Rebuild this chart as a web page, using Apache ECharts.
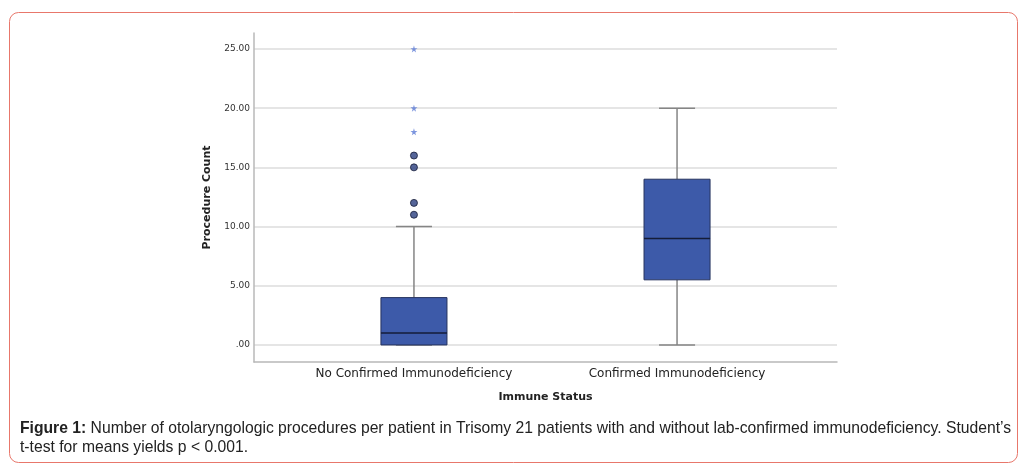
<!DOCTYPE html>
<html>
<head>
<meta charset="utf-8">
<script src="https://cdn.jsdelivr.net/npm/echarts@6/dist/echarts.min.js"></script>
<style>
html,body{margin:0;padding:0;background:#fff;}
#chart{width:1029px;height:471px;}
</style>
</head>
<body>
<div id="chart"></div>
<script>
// ---- data ----
var categories = ['No Confirmed Immunodeficiency', 'Confirmed Immunodeficiency'];
// [min, Q1, median, Q3, max]
var boxStats = [
  [0, 0, 1, 4, 10],
  [0, 5.5, 9, 14, 20]
];
// outliers (circles): [category index, value]
var outliers = [[0, 11], [0, 12], [0, 15], [0, 16]];
// extreme values (stars): [category index, value]
var extremes = [[0, 18], [0, 20], [0, 25]];
var yTicks = [0, 5, 10, 15, 20, 25];
var captionBold = 'Figure 1:';
var captionLine1 = ' Number of otolaryngologic procedures per patient in Trisomy 21 patients with and without lab-confirmed immunodeficiency. Student\u2019s';
var captionLine2 = 't-test for means yields p < 0.001.';

var boxData = boxStats.map(function (s, i) { return [i].concat(s); });

var chart = echarts.init(document.getElementById('chart'));
var starPath = 'path://M50,0 L61,35 L98,35 L68,57 L79,91 L50,70 L21,91 L32,57 L2,35 L39,35 Z';

var option = {
  backgroundColor: '#fff',
  animation: false,
  grid: { left: 254, right: 192, top: 33, bottom: 109 },
  xAxis: {
    type: 'value',
    min: -0.608,
    max: 1.608,
    name: 'Immune Status',
    nameLocation: 'middle',
    nameGap: 30,
    nameTextStyle: { fontFamily: 'DejaVu Sans', fontSize: 11, fontWeight: 'bold', color: '#222' },
    axisLine: { show: true, onZero: false, lineStyle: { color: '#b8b8b8', width: 1.5 } },
    axisTick: { show: false, customValues: [0, 1] },
    splitLine: { show: false },
    axisLabel: {
      customValues: [0, 1],
      margin: 6,
      fontFamily: 'DejaVu Sans', fontSize: 12, color: '#222',
      formatter: function (v) { return categories[Math.round(v)] || ''; }
    }
  },
  yAxis: {
    type: 'value',
    min: -1.44,
    max: 26.35,
    name: 'Procedure Count',
    nameLocation: 'middle',
    nameGap: 41,
    nameRotate: 90,
    nameTextStyle: { fontFamily: 'DejaVu Sans', fontSize: 11, fontWeight: 'bold', color: '#222' },
    axisLine: { show: true, onZero: false, lineStyle: { color: '#b8b8b8', width: 1.5 } },
    axisTick: { show: false, customValues: yTicks },
    splitLine: { show: true, lineStyle: { color: '#dcdcdc', width: 1.5 } },
    axisLabel: {
      customValues: yTicks,
      margin: 4,
      fontFamily: 'DejaVu Sans', fontSize: 9, color: '#333',
      formatter: function (v) { return v === 0 ? '.00' : v.toFixed(2); }
    }
  },
  graphic: [
    {
      type: 'rect', silent: true, z: -1,
      shape: { x: 9.5, y: 12.5, width: 1008, height: 450, r: 9 },
      style: { fill: 'none', stroke: '#e8776b', lineWidth: 1 }
    },
    {
      type: 'text', left: 20, top: 421,
      style: {
        text: '{b|' + captionBold + '}{n|' + captionLine1 + '}\n{n|' + captionLine2 + '}',
        rich: {
          b: { fontFamily: 'Liberation Sans', fontSize: 15.7, fontWeight: 'bold', fill: '#222', lineHeight: 19 },
          n: { fontFamily: 'Liberation Sans', fontSize: 15.7, fill: '#222', lineHeight: 19 }
        }
      }
    }
  ],
  series: [
    {
      type: 'custom',
      data: boxData,
      encode: { x: 0, y: [1, 2, 3, 4, 5] },
      renderItem: function (params, api) {
        var idx = api.value(0);
        var mn = api.coord([idx, api.value(1)]);
        var q1 = api.coord([idx, api.value(2)]);
        var md = api.coord([idx, api.value(3)]);
        var q3 = api.coord([idx, api.value(4)]);
        var mx = api.coord([idx, api.value(5)]);
        var bw = api.size([0.251, 0])[0];
        var cw = api.size([0.137, 0])[0];
        var cx = q1[0];
        var whisk = { stroke: '#858585', lineWidth: 1.5 };
        return {
          type: 'group',
          children: [
            { type: 'line', shape: { x1: cx, y1: q3[1], x2: cx, y2: mx[1] }, style: whisk },
            { type: 'line', shape: { x1: cx, y1: q1[1], x2: cx, y2: mn[1] }, style: whisk },
            { type: 'line', shape: { x1: cx - cw / 2, y1: mx[1], x2: cx + cw / 2, y2: mx[1] }, style: whisk },
            { type: 'line', shape: { x1: cx - cw / 2, y1: mn[1], x2: cx + cw / 2, y2: mn[1] }, style: whisk },
            { type: 'rect', shape: { x: cx - bw / 2, y: q3[1], width: bw, height: q1[1] - q3[1] },
              style: { fill: '#3d5aa9', stroke: '#26335e', lineWidth: 1 } },
            { type: 'line', shape: { x1: cx - bw / 2, y1: md[1], x2: cx + bw / 2, y2: md[1] },
              style: { stroke: '#151d38', lineWidth: 1.5 } }
          ]
        };
      },
      z: 3
    },
    {
      type: 'scatter',
      data: outliers,
      symbol: 'circle',
      symbolSize: 7,
      itemStyle: { color: '#2b3f80', borderColor: '#161d38', borderWidth: 1 },
      z: 4
    },
    {
      type: 'scatter',
      data: extremes,
      symbol: starPath,
      symbolSize: 7,
      itemStyle: { color: '#5b7bd6' },
      z: 4
    }
  ]
};
chart.setOption(option);
</script>
</body>
</html>
